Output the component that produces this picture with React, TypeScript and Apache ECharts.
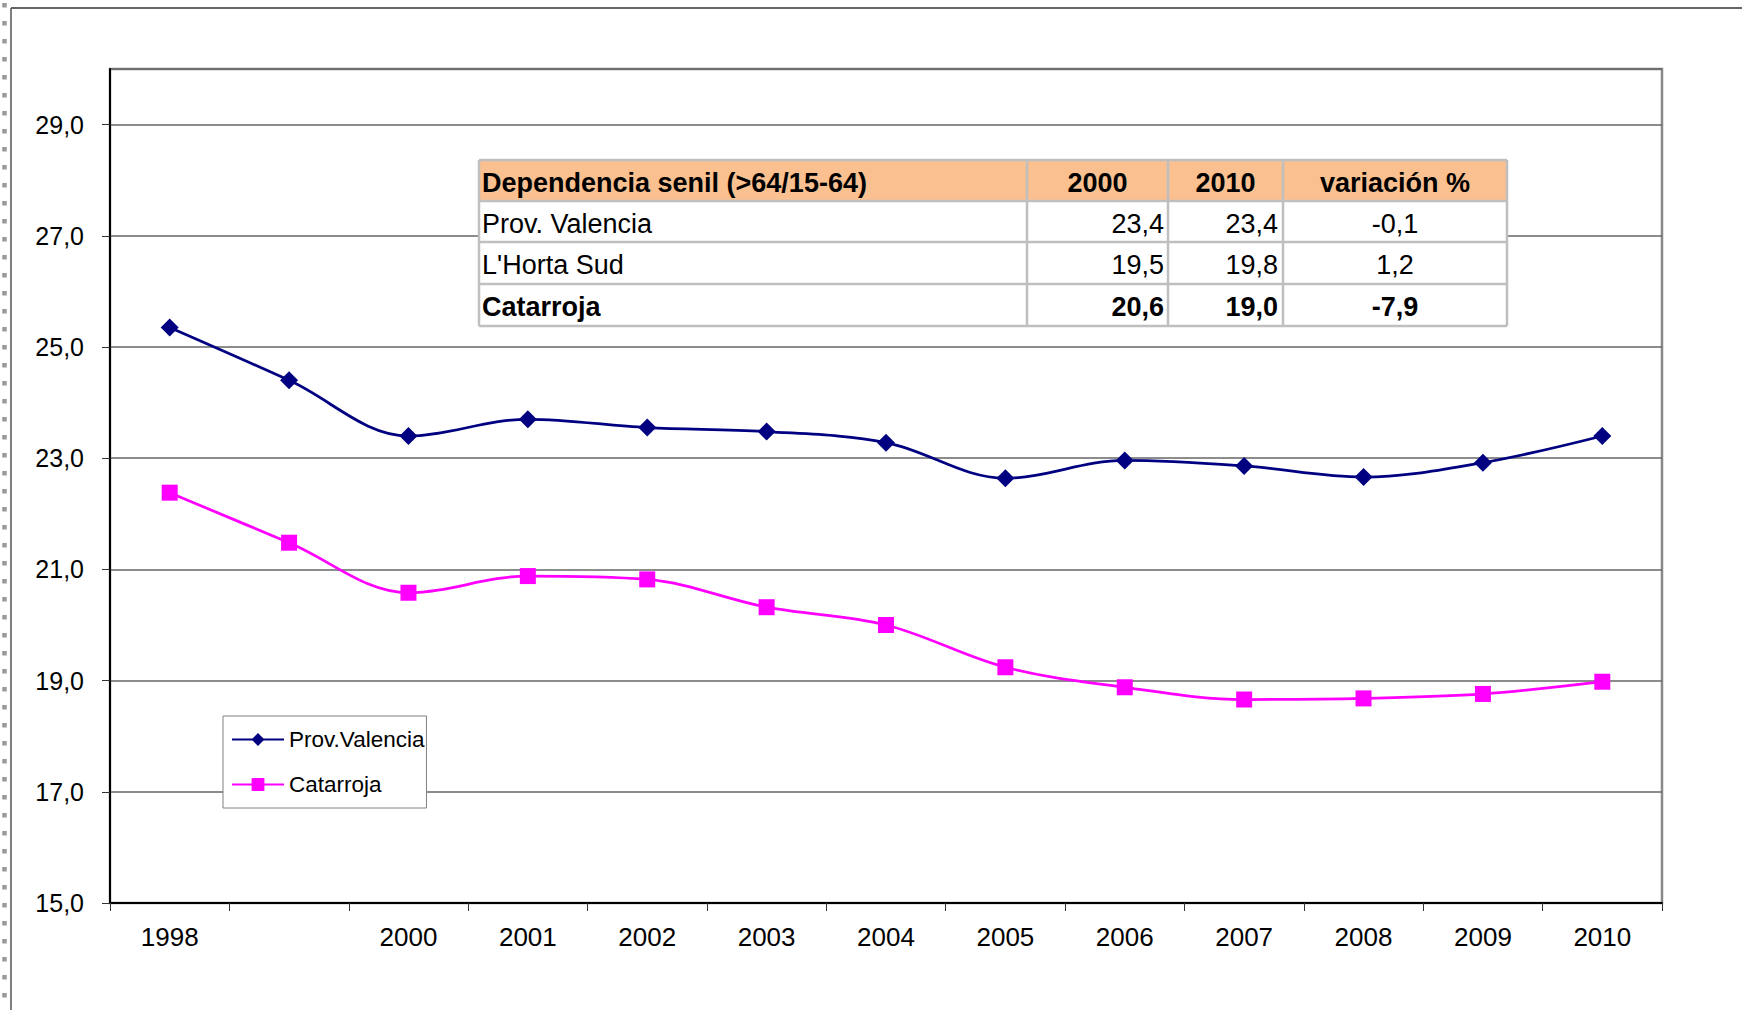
import React, { useEffect, useRef } from 'react';
import * as echarts from 'echarts';

// ---- Data ----
const years = ['1998', '', '2000', '2001', '2002', '2003', '2004', '2005', '2006', '2007', '2008', '2009', '2010'];
const provValencia = [25.35, 24.4, 23.4, 23.7, 23.55, 23.48, 23.28, 22.64, 22.96, 22.86, 22.66, 22.92, 23.4];
const catarroja = [22.38, 21.48, 20.58, 20.88, 20.82, 20.32, 20.0, 19.24, 18.88, 18.66, 18.68, 18.76, 18.98];
const seriesNames = ['Prov.Valencia', 'Catarroja'];

const tableHeader = ['Dependencia senil (>64/15-64)', '2000', '2010', 'variación %'];
const tableRowNames = ['Prov. Valencia', "L'Horta Sud", 'Catarroja'];
const table2000 = ['23,4', '19,5', '20,6'];
const table2010 = ['23,4', '19,8', '19,0'];
const tableVariation = ['-0,1', '1,2', '-7,9'];
const tableBoldRows = [false, false, true];

// ---- Style / layout ----
const FONT = "'Liberation Sans Narrow','Arial Narrow','Liberation Sans',Arial,sans-serif";
const NAVY = '#000080';
const MAGENTA = '#FF00FF';
const colX = [479, 1027, 1168, 1283, 1507];
const rowY = [160, 201, 242, 284, 326];
const TABLE_FONT = 27;

function buildTable(): any[] {
  const els: any[] = [];
  const w = colX[4] - colX[0];
  els.push({ type: 'rect', shape: { x: colX[0], y: rowY[0], width: w, height: rowY[4] - rowY[0] }, style: { fill: '#fff' }, z: 100 });
  els.push({ type: 'rect', shape: { x: colX[0], y: rowY[0], width: w, height: rowY[1] - rowY[0] }, style: { fill: '#FAC090' }, z: 101 });
  const lineStyle = { stroke: '#BFBFBF', lineWidth: 2.5 };
  rowY.forEach((y) => {
    els.push({ type: 'line', shape: { x1: colX[0], y1: y, x2: colX[4], y2: y }, style: lineStyle, z: 102 });
  });
  colX.forEach((x) => {
    els.push({ type: 'line', shape: { x1: x, y1: rowY[0], x2: x, y2: rowY[4] }, style: lineStyle, z: 102 });
  });
  const txt = (text: string, x: number, y: number, align: string, bold: boolean) => ({
    type: 'text',
    x,
    y,
    z: 103,
    style: {
      text,
      fill: '#000',
      fontSize: TABLE_FONT,
      fontWeight: bold ? 'bold' : 'normal',
      fontFamily: FONT,
      align,
      verticalAlign: 'middle',
    },
  });
  const hy = (rowY[0] + rowY[1]) / 2 + 2;
  els.push(txt(tableHeader[0], colX[0] + 3, hy, 'left', true));
  els.push(txt(tableHeader[1], (colX[1] + colX[2]) / 2, hy, 'center', true));
  els.push(txt(tableHeader[2], (colX[2] + colX[3]) / 2, hy, 'center', true));
  els.push(txt(tableHeader[3], (colX[3] + colX[4]) / 2, hy, 'center', true));
  tableRowNames.forEach((name, i) => {
    const cy = (rowY[i + 1] + rowY[i + 2]) / 2 + 2;
    const b = tableBoldRows[i];
    els.push(txt(name, colX[0] + 3, cy, 'left', b));
    els.push(txt(table2000[i], colX[2] - 4, cy, 'right', b));
    els.push(txt(table2010[i], colX[3] - 5, cy, 'right', b));
    els.push(txt(tableVariation[i], (colX[3] + colX[4]) / 2, cy, 'center', b));
  });
  return els;
}

function buildFrame(): any[] {
  return [
    { type: 'line', shape: { x1: 11, y1: 8, x2: 1742, y2: 8 }, style: { stroke: '#333', lineWidth: 1.5 }, z: 0 },
    { type: 'line', shape: { x1: 11, y1: 8, x2: 11, y2: 1010 }, style: { stroke: '#555', lineWidth: 1.5 }, z: 0 },
    { type: 'line', shape: { x1: 4.5, y1: 3, x2: 4.5, y2: 1010 }, style: { stroke: '#9a9a9a', lineWidth: 4.5, lineDash: [4.5, 13.5] }, z: 0 },
  ];
}

export default function App() {
  const ref = useRef<HTMLDivElement>(null);
  useEffect(() => {
    if (!ref.current) return;
    const chart = echarts.init(ref.current, null, { renderer: 'svg' });
    const fmt = (v: number) => v.toFixed(1).replace('.', ',');
    chart.setOption({
      animation: false,
      backgroundColor: '#fff',
      textStyle: { fontFamily: FONT },
      grid: { left: 110, top: 69, right: 80, bottom: 107, show: true, borderColor: '#888', borderWidth: 2.5, backgroundColor: 'transparent' },
      xAxis: {
        type: 'category',
        data: years,
        boundaryGap: true,
        axisLine: { show: true, lineStyle: { color: '#000', width: 2 } },
        axisTick: { show: true, length: 8, alignWithLabel: false, lineStyle: { color: '#333', width: 1 } },
        axisLabel: { color: '#000', fontSize: 26, fontFamily: FONT, margin: 21, interval: 0 },
        splitLine: { show: false },
      },
      yAxis: {
        type: 'value',
        min: 15,
        max: 30,
        interval: 2,
        axisLine: { show: true, lineStyle: { color: '#000', width: 2 } },
        axisTick: { show: true, length: 8, lineStyle: { color: '#333', width: 1 } },
        axisLabel: { color: '#000', fontSize: 25, fontFamily: FONT, margin: 26, formatter: fmt, showMaxLabel: false },
        splitLine: { show: true, lineStyle: { color: '#666', width: 1.5 } },
      },
      legend: {
        orient: 'vertical',
        left: 223,
        top: 716,
        padding: [12, 2, 12, 8],
        itemGap: 22,
        itemWidth: 52,
        itemHeight: 16,
        backgroundColor: '#fff',
        borderColor: '#808080',
        borderWidth: 1,
        borderRadius: 0,
        textStyle: { fontSize: 22.5, fontFamily: FONT, color: '#000' },
        data: seriesNames,
      },
      series: [
        {
          name: seriesNames[0],
          type: 'line',
          data: provValencia,
          smooth: 0.35,
          symbol: 'diamond',
          symbolSize: 18,
          lineStyle: { color: NAVY, width: 2.75 },
          itemStyle: { color: NAVY },
        },
        {
          name: seriesNames[1],
          type: 'line',
          data: catarroja,
          smooth: 0.35,
          symbol: 'rect',
          symbolSize: 16,
          lineStyle: { color: MAGENTA, width: 2.75 },
          itemStyle: { color: MAGENTA },
        },
      ],
      graphic: [...buildFrame(), ...buildTable()],
    });
    return () => chart.dispose();
  }, []);
  return <div ref={ref} style={{ position: 'fixed', left: 0, top: 0, width: 1742, height: 1010 }} />;
}
